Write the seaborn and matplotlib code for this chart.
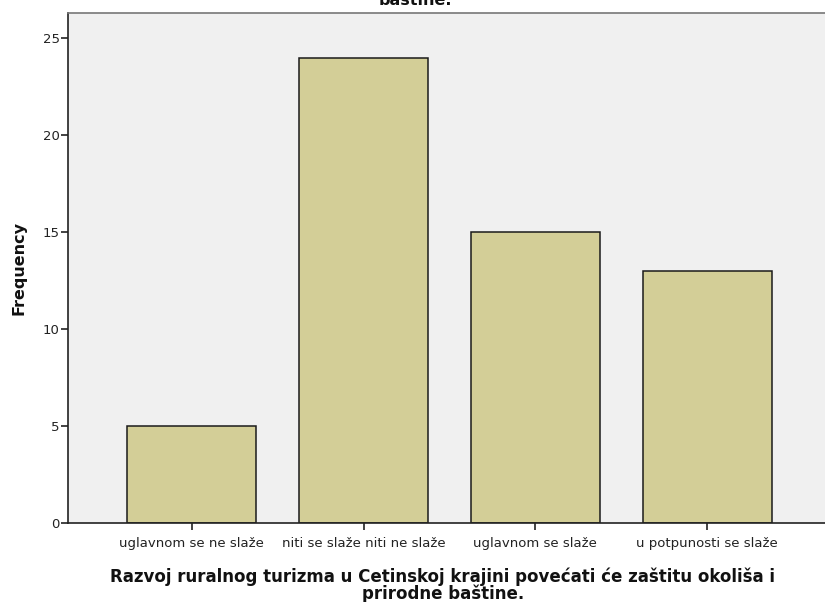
import matplotlib
matplotlib.use("Agg")
import matplotlib.pyplot as plt
import seaborn as sns
import pandas as pd

categories = ["uglavnom se ne slaže", "niti se slaže niti ne slaže",
              "uglavnom se slaže", "u potpunosti se slaže"]
frequency = [5, 24, 15, 13]
yticks = [0, 5, 10, 15, 20, 25]

title = ("Razvoj ruralnog turizma u Cetinskoj krajini povećati će zaštitu okoliša i prirodne\n"
         "baštine.")
xlabel = ("Razvoj ruralnog turizma u Cetinskoj krajini povećati će zaštitu okoliša i\n"
          "prirodne baštine.")
ylabel = "Frequency"

sns.set_theme(style="white")
plt.rcParams["font.family"] = ["DejaVu Sans"]

df = pd.DataFrame({"cat": categories, "freq": frequency})

fig = plt.figure(figsize=(8.25, 6.02), dpi=100)
W, H = 825, 602
ax = fig.add_axes([68 / W, 79 / H, 763 / W, 510 / H])
ax.set_facecolor("#F0F0F0")

sns.barplot(data=df, x="cat", y="freq", color="#D3CE97", saturation=1,
            edgecolor="#1a1a1a", linewidth=1.1, width=0.75, ax=ax)

ax.set_xlim(-0.72, 3.72)
ax.set_ylim(0, 26.3)
ax.set_yticks(yticks)
ax.set_yticklabels([str(v) for v in yticks], fontsize=9.5, color="#222222")
ax.tick_params(axis="y", direction="out", length=5, width=1.2, color="#222222", pad=1, left=True)
ax.tick_params(axis="x", direction="out", length=5, width=1.2, color="#222222", pad=5, bottom=True,
               labelsize=9.5, labelcolor="#222222")

for s in ["left", "bottom"]:
    ax.spines[s].set_color("#222222")
    ax.spines[s].set_linewidth(1.2)
ax.spines["top"].set_color("#777777")
ax.spines["top"].set_linewidth(1.2)
ax.spines["right"].set_visible(False)

ax.set_xlabel(xlabel, fontsize=12, fontweight="bold", color="#111111", labelpad=13, linespacing=0.88)
ax.xaxis.label.set_x((443 - 68) / 763)
ax.set_ylabel(ylabel, fontsize=11.5, fontweight="bold", color="#111111", labelpad=12)

fig.text(0.503, 1 - 8 / H, title, ha="center", va="bottom", fontsize=11.5,
         fontweight="bold", color="#111111", linespacing=0.9)

fig.savefig("out.png", dpi=100, facecolor="white")
